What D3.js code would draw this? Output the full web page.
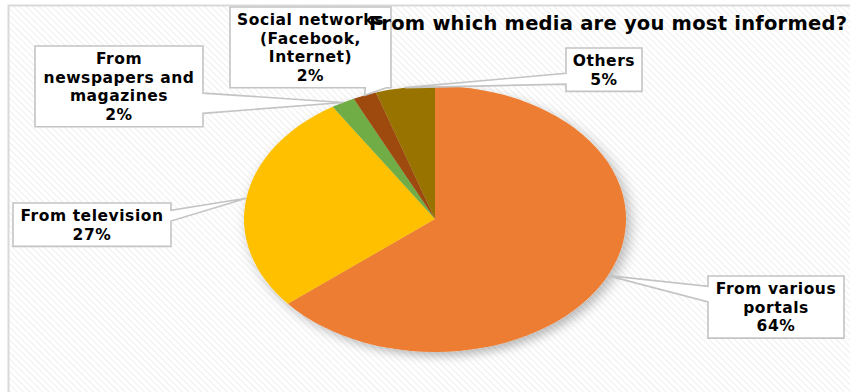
<!DOCTYPE html>
<html>
<head>
<meta charset="utf-8">
<script src="https://cdn.jsdelivr.net/npm/d3@7"></script>
<style>
  html, body { margin: 0; padding: 0; background: #ffffff; }
  svg { display: block; }
  text { font-family: "DejaVu Sans", Verdana, sans-serif; font-weight: bold; fill: #000; }
</style>
</head>
<body>
<svg id="chart" width="850" height="392"></svg>
<script>
// Survey answers: share of respondents per information source (percent)
const categories = [
  "From various portals",
  "From television",
  "From newspapers and magazines",
  "Social networks (Facebook, Internet)",
  "Others"
];
const values = [64, 27, 2, 2, 5];
const colors = ["#ED7D31", "#FFC000", "#70AD47", "#9E480E", "#997300"];

// Text shown inside each callout, one entry per line
const labelLines = [
  ["From various", "portals"],
  ["From television"],
  ["From", "newspapers and", "magazines"],
  ["Social networks", "(Facebook,", "Internet)"],
  ["Others"]
];

const title = "From which media are you most informed?";

// Callout box placement: position, width, side the pointer leaves from,
// and the fraction of that side where the pointer base sits
const calloutLayout = [
  { x: 708, y: 276, w: 136, side: "left",   f: [2/12, 5/12] },
  { x: 13,  y: 203, w: 158, side: "right",  f: [2/12, 5/12] },
  { x: 35,  y: 46,  w: 168, side: "right",  f: [7/12, 10/12] },
  { x: 230, y: 7,   w: 161, side: "bottom", f: [0.84, 0.97] },
  { x: 566, y: 48,  w: 76,  side: "left",   f: [7/12, 10/12] }
];

const svg = d3.select("#chart");
const defs = svg.append("defs");

// light diagonal hatch used as the chart area fill
const hatch = defs.append("pattern")
  .attr("id", "hatch")
  .attr("patternUnits", "userSpaceOnUse")
  .attr("width", 4.5).attr("height", 4.5)
  .attr("patternTransform", "rotate(-45)");
hatch.append("rect").attr("width", 4.5).attr("height", 4.5).attr("fill", "#ffffff");
hatch.append("line")
  .attr("x1", 0).attr("y1", 0).attr("x2", 0).attr("y2", 4.5)
  .attr("stroke", "#eaeaea").attr("stroke-width", 1.5);

// soft shadow beneath the pie
const shadow = defs.append("filter")
  .attr("id", "pieShadow")
  .attr("x", "-20%").attr("y", "-20%").attr("width", "140%").attr("height", "140%");
shadow.append("feDropShadow")
  .attr("dx", 3).attr("dy", 4).attr("stdDeviation", 5)
  .attr("flood-color", "#000").attr("flood-opacity", 0.28);

// chart area
svg.append("rect")
  .attr("x", 8.5).attr("y", 5.5)
  .attr("width", 900).attr("height", 500)
  .attr("fill", "url(#hatch)")
  .attr("stroke", "#d9d9d9").attr("stroke-width", 2);

// pie geometry (drawn as an ellipse)
const cx = 435, cy = 219, rx = 191, ry = 133;

const pie = d3.pie().sort(null).value(d => d.value);
const data = categories.map((c, i) => ({ category: c, value: values[i], color: colors[i], i }));
const arcs = pie(data);
const arc = d3.arc().innerRadius(0).outerRadius(ry);

const pieG = svg.append("g")
  .attr("transform", `translate(${cx},${cy}) scale(${rx / ry},1)`)
  .attr("filter", "url(#pieShadow)");

pieG.selectAll("path")
  .data(arcs)
  .join("path")
  .attr("d", arc)
  .attr("fill", d => d.data.color);

// point on the pie rim at the middle of a slice
function rimPoint(a) {
  const ang = (a.startAngle + a.endAngle) / 2;
  return [cx + rx * Math.sin(ang), cy - ry * Math.cos(ang)];
}

const lineH = 18.7;

function calloutPath(b, h, tip) {
  const { x, y, w, side, f } = b;
  const [tx, ty] = tip;
  const p = d3.path();
  p.moveTo(x, y);
  p.lineTo(x + w, y);
  if (side === "right") {
    p.lineTo(x + w, y + h * f[0]);
    p.lineTo(tx, ty);
    p.lineTo(x + w, y + h * f[1]);
  }
  p.lineTo(x + w, y + h);
  if (side === "bottom") {
    p.lineTo(x + w * f[1], y + h);
    p.lineTo(tx, ty);
    p.lineTo(x + w * f[0], y + h);
  }
  p.lineTo(x, y + h);
  if (side === "left") {
    p.lineTo(x, y + h * f[1]);
    p.lineTo(tx, ty);
    p.lineTo(x, y + h * f[0]);
  }
  p.closePath();
  return p.toString();
}

const fmt = d => d + "%";

const callouts = svg.append("g").selectAll("g")
  .data(arcs)
  .join("g");

callouts.each(function (a, i) {
  const g = d3.select(this);
  const b = calloutLayout[i];
  const lines = labelLines[i].concat([fmt(a.data.value)]);
  const h = 6 + lineH * lines.length;
  g.append("path")
    .attr("d", calloutPath(b, h, rimPoint(a)))
    .attr("fill", "#ffffff")
    .attr("stroke", "#c4c4c4")
    .attr("stroke-width", 1.6)
    .attr("stroke-linejoin", "miter");
  const t = g.append("text")
    .attr("text-anchor", "middle")
    .attr("font-size", 15.5)
    .attr("letter-spacing", 0.55);
  lines.forEach((ln, k) => {
    t.append("tspan")
      .attr("x", b.x + b.w / 2)
      .attr("y", b.y + 18 + k * lineH)
      .text(ln);
  });
});

// title drawn last so it sits above the callouts
svg.append("text")
  .attr("x", 369)
  .attr("y", 30)
  .attr("font-size", 19.5)
  .attr("textLength", 478)
  .attr("lengthAdjust", "spacing")
  .text(title);
</script>
</body>
</html>
